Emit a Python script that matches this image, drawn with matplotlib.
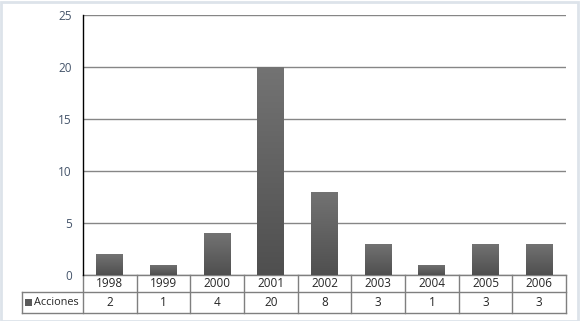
import numpy as np
import matplotlib.pyplot as plt
from matplotlib.patches import Rectangle
from matplotlib.colors import LinearSegmentedColormap

# data
years = ["1998", "1999", "2000", "2001", "2002", "2003", "2004", "2005", "2006"]
acciones = [2, 1, 4, 20, 8, 3, 1, 3, 3]
series_name = "Acciones"
yticks = [0, 5, 10, 15, 20, 25]

W, H = 580, 321
fig = plt.figure(figsize=(W / 100, H / 100), dpi=100)
fig.patch.set_facecolor("white")

# outer frame
fig.add_artist(Rectangle((0.5 / W, 0.5 / H), 1 - 3 / W, 1 - 2 / H, transform=fig.transFigure,
                         fill=False, edgecolor="#dde3ea", linewidth=2))

left, right, top, bottom = 83, 566, 15, 275
ax = fig.add_axes([left / W, 1 - bottom / H, (right - left) / W, (bottom - top) / H])

n = len(years)
x = np.arange(n)

# gradient bars
grad = np.linspace(0, 1, 256).reshape(-1, 1)
cmap = LinearSegmentedColormap.from_list("g", ["#4f4f4f", "#737373"])
bars = ax.bar(x, acciones, width=0.5, color="#606060", zorder=3)
for b in bars:
    bx, by = b.get_x(), b.get_y()
    bw, bh = b.get_width(), b.get_height()
    im = ax.imshow(grad, extent=[bx, bx + bw, by, by + bh], origin="lower",
                   cmap=cmap, aspect="auto", zorder=4)
    im.set_clip_path(b)
ax.set_aspect("auto")
ax.set_xlim(-0.5, n - 0.5)
ax.set_ylim(0, 25)

ax.set_yticks(yticks)
ax.yaxis.grid(True, color="#868686", linewidth=1)
ax.set_axisbelow(True)
ax.tick_params(axis="y", length=0, pad=8, labelsize=8.5, labelcolor="#44546a")
ax.set_xticks([])
for s in ["top", "right", "bottom"]:
    ax.spines[s].set_visible(False)
ax.spines["left"].set_color("#000000")
ax.spines["left"].set_linewidth(1)
for lbl in ax.get_yticklabels():
    lbl.set_fontfamily("Open Sans")

# data table below the axis
axh = bottom - top
r1 = -17 / axh
r2 = -38 / axh
unit = (right - left) / n
lab_left = -0.5 - (left - 22) / unit
lc = "#7f7f7f"
tr = ax.get_xaxis_transform()
kw = dict(color=lc, linewidth=1, transform=tr, clip_on=False)
ax.plot([-0.5, n - 0.5], [0, 0], **kw)
ax.plot([lab_left, n - 0.5], [r1, r1], **kw)
ax.plot([lab_left, n - 0.5], [r2, r2], **kw)
ax.plot([lab_left, lab_left], [r1, r2], **kw)
for i in range(n + 1):
    ax.plot([i - 0.5, i - 0.5], [0, r2], **kw)

tkw = dict(transform=tr, ha="center", va="center", fontsize=8.5, color="#262626",
           fontfamily="Open Sans", clip_on=False)
for i in range(n):
    ax.text(i, r1 / 2, years[i], **tkw)
    ax.text(i, (r1 + r2) / 2, str(acciones[i]), **tkw)

# legend key in the label cell
ax.add_patch(Rectangle((lab_left + 3 / unit, (r1 + r2) / 2 - 0.013), 7 / unit, 0.026,
                       transform=tr, facecolor="#5a5a5a", edgecolor="none", clip_on=False))
ax.text(lab_left + 12 / unit, (r1 + r2) / 2, series_name, transform=tr, ha="left",
        va="center", fontsize=7.8, color="#262626", fontfamily="Open Sans", clip_on=False)

fig.savefig("out.png", dpi=100)
